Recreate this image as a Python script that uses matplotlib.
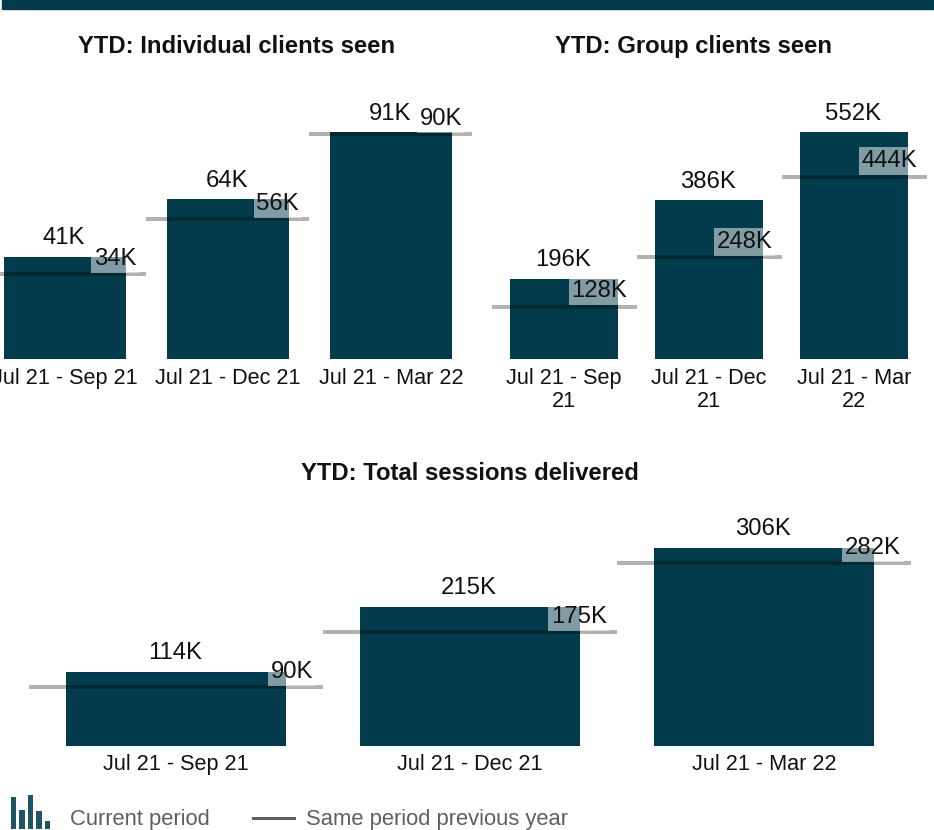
import matplotlib
matplotlib.use("Agg")
import matplotlib.pyplot as plt
from matplotlib.patches import Rectangle
from matplotlib.lines import Line2D

# ---- data ----
periods = ["Jul 21 - Sep 21", "Jul 21 - Dec 21", "Jul 21 - Mar 22"]
periods_wrapped = ["Jul 21 - Sep\n21", "Jul 21 - Dec\n21", "Jul 21 - Mar\n22"]

individual_current = [41, 64, 91]
individual_previous = [34, 56, 90]

group_current = [196, 386, 552]
group_previous = [128, 248, 444]

sessions_current = [114, 215, 306]
sessions_previous = [90, 175, 282]

legend_icon_heights = [0.75, 0.45, 0.8, 0.42, 0.2]

BAR_COLOR = "#023B4B"
W, H = 934, 830
DPI = 100
PX = 72 / DPI  # points per pixel

plt.rcParams["font.family"] = ["Liberation Sans", "DejaVu Sans"]

fig = plt.figure(figsize=(W / DPI, H / DPI), dpi=DPI)


def px_axes(left, top, right, bottom):
    return fig.add_axes([left / W, 1 - bottom / H, (right - left) / W, (bottom - top) / H])


def draw_chart(ax, labels, current, previous, ymax, label_dx_px):
    x = list(range(len(current)))
    ax.bar(x, current, width=0.75, color=BAR_COLOR, zorder=1)
    for i, p in enumerate(previous):
        ax.plot([i - 0.5, i + 0.5], [p, p], color="black", alpha=0.3,
                lw=4 * PX, solid_capstyle="butt", zorder=2, clip_on=False)
    for i, (c, p) in enumerate(zip(current, previous)):
        ax.annotate(f"{c}K", xy=(i, c), xytext=(-1 * PX, 12.5 * PX),
                    textcoords="offset points", ha="center", va="baseline",
                    fontsize=17.2, color="#111111", zorder=4)
        ax.annotate(f"{p}K", xy=(i + 0.375, p), xytext=(label_dx_px * PX, 9.5 * PX),
                    textcoords="offset points", ha="right", va="baseline",
                    fontsize=17.2, color="#111111", zorder=3,
                    bbox=dict(boxstyle="square,pad=0.12", fc=(1, 1, 1, 0.5), ec="none"))
    ax.set_xlim(-0.5, len(current) - 0.5)
    ax.set_ylim(0, ymax)
    ax.set_xticks(x)
    ax.set_xticklabels(labels, fontsize=15.6, color="#111111", linespacing=1.15)
    ax.tick_params(axis="x", length=0, pad=6)
    ax.set_yticks([])
    for s in ax.spines.values():
        s.set_visible(False)
    ax.patch.set_alpha(0)


# top band
fig.patches.append(Rectangle((2 / W, 1 - 9.5 / H), (W - 2) / W, 9.5 / H,
                             transform=fig.transFigure, color=BAR_COLOR, zorder=0))

# chart 1: individual clients (2.5 px per K)
ax1 = px_axes(-16.5, 359.5 - 105 * 2.5, 472.5, 359.5)
draw_chart(ax1, periods, individual_current, individual_previous, 105, 10)
fig.text(236.5 / W, 1 - 53.3 / H, "YTD: Individual clients seen", ha="center",
         va="baseline", fontsize=17.2, fontweight="bold", color="#111111")

# chart 2: group clients (0.412 px per K)
ax2 = px_axes(491.5, 359.5 - 640 * 0.412, 926.5, 359.5)
draw_chart(ax2, periods_wrapped, group_current, group_previous, 640, 9)
fig.text(693.3 / W, 1 - 53.3 / H, "YTD: Group clients seen", ha="center",
         va="baseline", fontsize=17.2, fontweight="bold", color="#111111")

# chart 3: total sessions (0.647 px per K)
ax3 = px_axes(29, 745.7 - 350 * 0.647, 911, 745.7)
draw_chart(ax3, periods, sessions_current, sessions_previous, 350, 27)
fig.text(470 / W, 1 - 480 / H, "YTD: Total sessions delivered", ha="center",
         va="baseline", fontsize=17.2, fontweight="bold", color="#111111")

# legend
icon_ax = px_axes(11, 795, 53, 829)
icon_ax.bar(range(len(legend_icon_heights)), legend_icon_heights, width=0.65,
            color="#1F5463", align="edge")
icon_ax.set_xlim(0, len(legend_icon_heights))
icon_ax.set_ylim(0, 0.8)
icon_ax.axis("off")

fig.text(70 / W, 1 - 825 / H, "Current period", ha="left", va="baseline",
         fontsize=15.8, color="#5F5F5F")
fig.lines.append(Line2D([253 / W, 294 / W], [1 - 818 / H, 1 - 818 / H],
                        transform=fig.transFigure, color="#5F5F5F", lw=3 * PX))
fig.text(306 / W, 1 - 825 / H, "Same period previous year", ha="left", va="baseline",
         fontsize=15.8, color="#5F5F5F")

fig.savefig("out.png", dpi=DPI)
